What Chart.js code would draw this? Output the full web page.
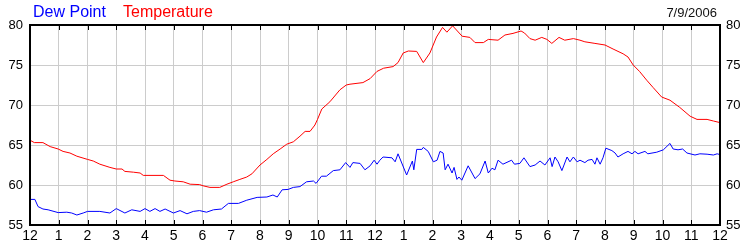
<!DOCTYPE html>
<html>
<head>
<meta charset="utf-8">
<script src="https://cdn.jsdelivr.net/npm/chart.js@4/dist/chart.umd.min.js"></script>
<style>
  body { margin: 0; background: #fff; }
  #wrap { position: relative; width: 750px; height: 250px; font-family: "Liberation Sans", Arial, sans-serif; }
  #chart { position: absolute; left: 0; top: 0; }
  .hdr { position: absolute; white-space: nowrap; }
</style>
</head>
<body>
<div id="wrap">
  <canvas id="chart" width="750" height="250"></canvas>
  <span class="hdr" style="left:33px; top:4px; font-size:16px; line-height:16px; color:#0000ff;">Dew Point</span>
  <span class="hdr" style="left:123px; top:4px; font-size:16px; line-height:16px; color:#ff0000;">Temperature</span>
  <span class="hdr" style="right:33px; top:6px; font-size:13px; line-height:13px; color:#111;">7/9/2006</span>
</div>
<script>
// === DATA ===

// hours since midnight
const tempHours = [0, 0.15, 0.45, 0.7, 0.98, 1.15, 1.39, 1.63, 2, 2.2, 2.43, 2.78, 3, 3.2, 3.3, 3.6, 3.83, 3.94,
  4.64, 4.87, 5.04, 5.33, 5.57, 5.9, 6.02, 6.26, 6.6, 6.85, 7.07, 7.3, 7.54, 7.72, 8, 8.24, 8.46, 8.7, 8.93,
  9.16, 9.39, 9.57, 9.74, 9.91, 10, 10.15, 10.43, 10.78, 11, 11.13, 11.58, 11.83, 12.07, 12.3, 12.63, 12.8,
  12.98, 13.16, 13.45, 13.68, 13.91, 14.14, 14.35, 14.5, 14.7, 15.03, 15.3, 15.48, 15.77, 15.94, 16.28, 16.52,
  16.8, 17.08, 17.2, 17.39, 17.57, 17.8, 17.98, 18.15, 18.4, 18.6, 18.9, 19.13, 19.3, 19.65, 20, 20.28, 20.63,
  20.8, 20.98, 21.2, 21.45, 21.67, 21.97, 22.26, 22.6, 22.96, 23.2, 23.55, 23.77, 24];
const tempValues = [65.6, 65.3, 65.3, 64.8, 64.5, 64.2, 64.0, 63.6, 63.2, 63.0, 62.6, 62.2, 62.0, 62.0, 61.7, 61.6, 61.5, 61.2,
  61.2, 60.6, 60.5, 60.4, 60.1, 60.05, 59.9, 59.7, 59.7, 60.1, 60.4, 60.7, 61.0, 61.4, 62.5, 63.2, 63.9, 64.5, 65.1,
  65.4, 66.1, 66.7, 66.7, 67.5, 68.2, 69.5, 70.4, 71.9, 72.5, 72.6, 72.8, 73.3, 74.2, 74.6, 74.8, 75.3,
  76.5, 76.75, 76.7, 75.3, 76.5, 78.5, 79.7, 79.1, 79.9, 78.6, 78.45, 77.8, 77.8, 78.2, 78.1, 78.75,
  78.95, 79.25, 79.0, 78.3, 78.1, 78.45, 78.2, 77.7, 78.45, 78.1, 78.3, 78.1, 77.9, 77.7, 77.5, 77.0, 76.4,
  76.0, 75.0, 74.2, 73.1, 72.2, 71.0, 70.6, 69.7, 68.6, 68.2, 68.2, 68.0, 67.8];

const dewHours = [0, 0.17, 0.28, 0.45, 0.63, 0.98, 1.28, 1.45, 1.63, 1.85, 2, 2.43, 2.78, 3, 3.3, 3.54, 3.83, 4,
  4.17, 4.35, 4.52, 4.7, 4.99, 5.22, 5.46, 5.68, 5.9, 6.14, 6.38, 6.66, 6.9, 7.25, 7.54, 7.9, 8.24, 8.45, 8.6,
  8.77, 8.98, 9.16, 9.39, 9.62, 9.86, 9.95, 10.14, 10.31, 10.55, 10.78, 10.98, 11.13, 11.23, 11.48, 11.65,
  11.83, 11.97, 12.07, 12.17, 12.28, 12.59, 12.7, 12.8, 13.1, 13.3, 13.35, 13.45, 13.63, 13.68, 13.85, 14.03,
  14.16, 14.26, 14.37, 14.44, 14.54, 14.68, 14.75, 14.85, 14.92, 15.02, 15.24, 15.48, 15.65, 15.83, 15.94,
  16.07, 16.17, 16.28, 16.45, 16.75, 16.85, 17.04, 17.18, 17.39, 17.57, 17.74, 17.91, 18.09, 18.16, 18.26,
  18.37, 18.5, 18.68, 18.78, 18.9, 19.03, 19.13, 19.3, 19.41, 19.55, 19.65, 19.72, 19.83, 19.93, 20.03,
  20.24, 20.35, 20.45, 20.63, 20.8, 20.94, 21.04, 21.15, 21.39, 21.49, 21.8, 22.03, 22.26, 22.37, 22.54,
  22.7, 22.85, 23.13, 23.3, 23.55, 23.77, 23.9, 24];
const dewValues = [58.2, 58.2, 57.3, 57.0, 56.9, 56.55, 56.6, 56.5, 56.25, 56.5, 56.7, 56.7, 56.5, 57.05, 56.5, 56.9, 56.7, 57.05,
  56.7, 57.05, 56.7, 57.0, 56.5, 56.8, 56.4, 56.7, 56.8, 56.6, 56.9, 57.0, 57.7, 57.7, 58.1, 58.45, 58.5, 58.75, 58.5,
  59.4, 59.45, 59.7, 59.8, 60.4, 60.5, 60.2, 61.1, 61.1, 61.8, 61.9, 62.8, 62.2, 62.8, 62.7, 61.9,
  62.4, 63.1, 62.6, 63.1, 63.5, 63.4, 62.9, 63.9, 61.25, 63.0, 61.9, 64.45, 64.45, 64.7, 64.2, 62.9,
  63.1, 64.2, 64.0, 61.9, 62.6, 61.5, 62.2, 60.7, 61.0, 60.6, 62.4, 60.8, 61.4, 63.0, 61.5,
  62.1, 61.9, 63.1, 62.6, 63.1, 62.6, 62.7, 63.4, 62.3, 62.5, 63.0, 62.5, 63.4, 62.3, 63.5,
  62.9, 61.8, 63.5, 62.9, 63.5, 62.9, 63.1, 62.8, 63.1, 63.2, 62.6, 63.4, 62.6, 63.4, 64.6,
  64.3, 64.0, 63.5, 63.9, 64.2, 63.9, 64.2, 63.9, 64.2, 63.9, 64.1, 64.4, 65.2, 64.5, 64.4,
  64.5, 64.0, 63.75, 63.9, 63.85, 63.75, 63.9, 63.8];

const hourTicks = [0, 1, 2, 3, 4, 5, 6, 7, 8, 9, 10, 11, 12, 13, 14, 15, 16, 17, 18, 19, 20, 21, 22, 23, 24];
const hourLabels = ["12", "1", "2", "3", "4", "5", "6", "7", "8", "9", "10", "11",
  "12", "1", "2", "3", "4", "5", "6", "7", "8", "9", "10", "11", "12"];
const tempTicks = [55, 60, 65, 70, 75, 80];

const toPoints = (xs, ys) => xs.map((x, i) => ({ x: x, y: ys[i] }));

// === FRAME + INNER TICKS ===

const framePlugin = {
  id: "frame",
  afterDraw(chart) {
    const { ctx, chartArea: a, scales } = chart;
    ctx.save();
    ctx.strokeStyle = "#000";
    ctx.lineWidth = 1;
    ctx.beginPath();
    hourTicks.slice(1, -1).forEach(h => {
      const px = Math.round(scales.x.getPixelForValue(h)) + 0.5;
      ctx.moveTo(px, a.top);
      ctx.lineTo(px, a.top + 5);
      ctx.moveTo(px, a.bottom);
      ctx.lineTo(px, a.bottom - 5);
    });
    ctx.stroke();
    ctx.lineWidth = 2;
    ctx.strokeRect(a.left, a.top, a.right - a.left, a.bottom - a.top);
    ctx.restore();
  }
};

// === CHART ===

const font = { family: "'Liberation Sans', Arial, sans-serif", size: 13 };

new Chart(document.getElementById("chart"), {
  type: "line",
  data: {
    datasets: [
      {
        label: "Temperature",
        data: toPoints(tempHours, tempValues),
        borderColor: "#ff0000",
        borderWidth: 1,
        pointRadius: 0,
        tension: 0
      },
      {
        label: "Dew Point",
        data: toPoints(dewHours, dewValues),
        borderColor: "#0000ff",
        borderWidth: 1,
        pointRadius: 0,
        tension: 0
      }
    ]
  },
  options: {
    responsive: false,
    animation: false,
    layout: { padding: { top: 25, left: 0, right: 0, bottom: 0 } },
    plugins: { legend: { display: false }, tooltip: { enabled: false } },
    scales: {
      x: {
        type: "linear",
        min: 0,
        max: 24,
        afterBuildTicks: s => { s.ticks = hourTicks.map(v => ({ value: v })); },
        afterFit: s => { s.height = 25; },
        ticks: {
          color: "#000",
          font: { family: font.family, size: 14 },
          padding: 3,
          maxRotation: 0,
          autoSkip: false,
          callback: (v, i) => hourLabels[i]
        },
        grid: { color: "#cccccc", drawTicks: false },
        border: { display: false }
      },
      y: {
        position: "left",
        min: 55,
        max: 80,
        afterBuildTicks: s => { s.ticks = tempTicks.map(v => ({ value: v })); },
        afterFit: s => { s.width = 30; },
        ticks: { color: "#000", font: font, padding: 7 },
        grid: { color: "#cccccc", drawTicks: false },
        border: { display: false }
      },
      y2: {
        position: "right",
        min: 55,
        max: 80,
        afterBuildTicks: s => { s.ticks = tempTicks.map(v => ({ value: v })); },
        afterFit: s => { s.width = 30; },
        ticks: { color: "#000", font: font, padding: 6 },
        grid: { drawOnChartArea: false, drawTicks: false },
        border: { display: false }
      }
    }
  },
  plugins: [framePlugin]
});
</script>
</body>
</html>
